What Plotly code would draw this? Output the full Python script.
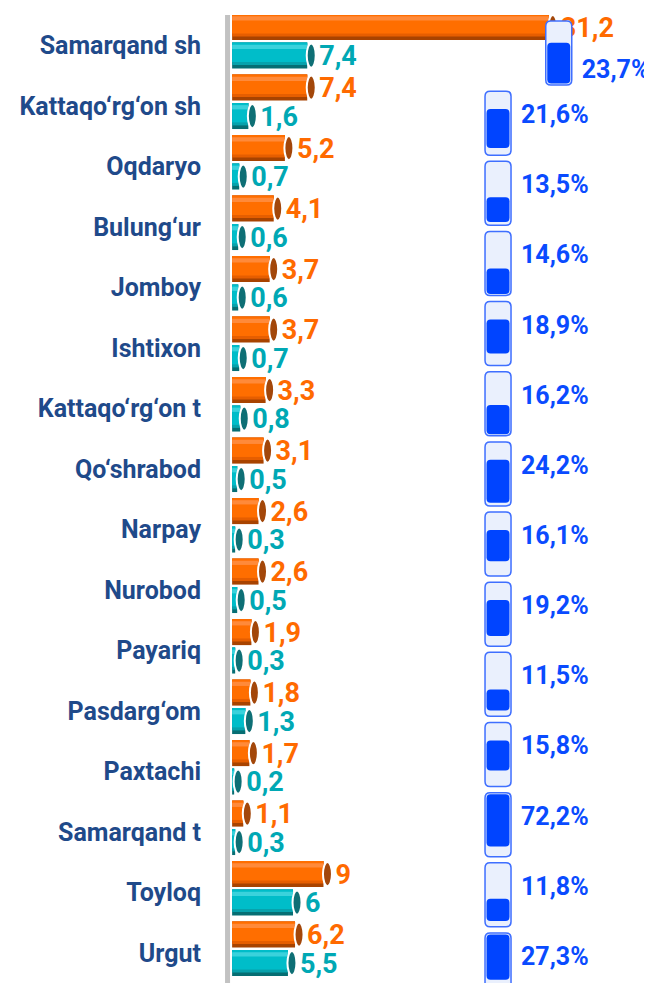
import plotly.graph_objects as go

# ---------------- data ----------------
categories = ["Samarqand sh", "Kattaqo‘rg‘on sh", "Oqdaryo", "Bulung‘ur", "Jomboy",
              "Ishtixon", "Kattaqo‘rg‘on t", "Qo‘shrabod", "Narpay", "Nurobod",
              "Payariq", "Pasdarg‘om", "Paxtachi", "Samarqand t", "Toyloq", "Urgut"]
orange_vals = [31.2, 7.4, 5.2, 4.1, 3.7, 3.7, 3.3, 3.1, 2.6, 2.6, 1.9, 1.8, 1.7, 1.1, 9, 6.2]
teal_vals = [7.4, 1.6, 0.7, 0.6, 0.6, 0.7, 0.8, 0.5, 0.3, 0.5, 0.3, 1.3, 0.2, 0.3, 6, 5.5]

pct_labels = ["23,7%", "21,6%", "13,5%", "14,6%", "18,9%", "16,2%", "24,2%",
              "16,1%", "19,2%", "11,5%", "15,8%", "72,2%", "11,8%", "27,3%"]
# battery fill levels as drawn (fraction of battery height, from bottom)
fill_low = [0.00, 0.11, 0.05, 0.02, 0.19, 0.00, 0.05, 0.23, 0.16, 0.09, 0.25, 0.16, 0.09, 0.27]
fill_high = [0.66, 0.72, 0.44, 0.42, 0.72, 0.48, 0.72, 0.72, 0.72, 0.42, 0.72, 1.00, 0.44, 1.00]

# ---------------- styling ----------------
PX = 10.15            # pixels per x unit
SLOT_PX = 70.15       # pixels per battery slot
PAGE = 8              # default page margin of the html body
FONT = "Roboto"
ORANGE_TXT = "#FF6A00"
TEAL_TXT = "#00A8B4"
BLUE_TXT = "#0A4BFF"
NAVY = "#1F4A8A"

n = len(categories)
bar_h = 0.43
off_o, off_t = -0.30, 0.17

fig = go.Figure()


def cylinder(vals, off, shades):
    centers = [i + off for i in range(n)]
    top = [c - bar_h / 2 for c in centers]
    for w, col in shades[:-1]:
        fig.add_trace(go.Bar(orientation="h", x=vals, y=[t + w / 2 for t in top],
                             width=w, base=0, marker=dict(color=col, line=dict(width=0)),
                             hoverinfo="skip"))
    hw, hcol = shades[-1]
    fig.add_trace(go.Bar(orientation="h", x=vals, y=[t + 0.035 + hw / 2 for t in top],
                         width=hw, base=0, marker=dict(color=hcol, line=dict(width=0)),
                         hoverinfo="skip"))
    return centers


c_o = cylinder(orange_vals, off_o, [(bar_h, "#A84300"), (0.37, "#E65E00"), (0.32, "#FF6E00"), (0.07, "#FF8A3A")])
c_t = cylinder(teal_vals, off_t, [(bar_h, "#066E73"), (0.37, "#07A2AC"), (0.32, "#00BDC9"), (0.07, "#3AD2DC")])

shapes = []
# grey axis line
shapes.append(dict(type="line", xref="x", yref="paper", x0=-0.45, x1=-0.45, y0=0.0, y1=1.0,
                   line=dict(color="#C2C2C2", width=5), layer="above"))

# end caps
for vals, cents, capcol in [(orange_vals, c_o, "#A3470A"), (teal_vals, c_t, "#0E6F75")]:
    for v, c in zip(vals, cents):
        cx = v + 4 / PX
        shapes.append(dict(type="circle", xref="x", yref="y",
                           x0=cx - 4.5 / PX, x1=cx + 4.5 / PX, y0=c - 0.2, y1=c + 0.2,
                           fillcolor=capcol, line=dict(color="white", width=2), layer="above"))

# value labels
fig.add_trace(go.Scatter(x=[v + 12 / PX for v in orange_vals], y=[c + 0.05 for c in c_o],
                         mode="text", text=[f"{v:g}".replace(".", ",") for v in orange_vals],
                         textposition="middle right", cliponaxis=False, hoverinfo="skip",
                         textfont=dict(family=FONT, size=27, color=ORANGE_TXT, weight=700)))
fig.add_trace(go.Scatter(x=[v + 12 / PX for v in teal_vals], y=[c + 0.05 for c in c_t],
                         mode="text", text=[f"{v:g}".replace(".", ",") for v in teal_vals],
                         textposition="middle right", cliponaxis=False, hoverinfo="skip",
                         textfont=dict(family=FONT, size=27, color=TEAL_TXT, weight=700)))


# batteries (separate column on its own slot axis)
def rr(x0, x1, y0, y1, rx, ry):
    return (f"M{x0 + rx},{y0} L{x1 - rx},{y0} Q{x1},{y0} {x1},{y0 + ry} "
            f"L{x1},{y1 - ry} Q{x1},{y1} {x1 - rx},{y1} L{x0 + rx},{y1} "
            f"Q{x0},{y1} {x0},{y1 - ry} L{x0},{y0 + ry} Q{x0},{y0} {x0 + rx},{y0} Z")


m = len(pct_labels)
col_x = (485 - 232.1) / PX
bw = 26 / PX
bh = 64 / SLOT_PX
rx, ry = 5 / PX, 5 / SLOT_PX
bat_x0 = [col_x] * m
bat_x0[0] = max(col_x, orange_vals[0] - 0.3)   # first battery sits on the long top bar
ins_x, ins_y = 1.5 / PX, 1.5 / SLOT_PX
for i in range(m):
    x0, x1 = bat_x0[i], bat_x0[i] + bw
    top, bot = i - bh / 2, i + bh / 2
    shapes.append(dict(type="path", xref="x", yref="y2", path=rr(x0, x1, top, bot, rx, ry),
                       fillcolor="#EAF0FD", line=dict(color="#3F6FFF", width=1.5), layer="above"))
    ft = bot - fill_high[i] * bh
    fb = bot - fill_low[i] * bh
    ft = max(ft, top + ins_y)
    fb = min(fb, bot - ins_y)
    shapes.append(dict(type="path", xref="x", yref="y2",
                       path=rr(x0 + ins_x, x1 - ins_x, ft, fb, rx * 0.8, ry * 0.8),
                       fillcolor="#0044FF", line=dict(width=0), layer="above"))

# percent labels: the one beside the displaced battery drops below the bar's value label
pct_y = [i - 0.09 for i in range(m)]
if bat_x0[0] > col_x:
    pct_y[0] = 0.27
fig.add_trace(go.Scatter(x=[x + bw + 10 / PX for x in bat_x0], y=pct_y,
                         yaxis="y2", mode="text", text=pct_labels, textposition="middle right",
                         cliponaxis=False, hoverinfo="skip",
                         textfont=dict(family=FONT, size=25, color=BLUE_TXT, weight=700)))

W, H = 652, 993
# target plot area on the page: x 224..652, y 15..983 (page has an 8px body margin)
L, R = 224 - PAGE, 0
T, B = 15 - PAGE, H + PAGE - 983
plot_h = H - T - B
slot_span = plot_h / SLOT_PX
slot_top = -(53 - 15) / SLOT_PX

fig.update_layout(
    width=W, height=H, margin=dict(l=L, r=R, t=T, b=B),
    paper_bgcolor="white", plot_bgcolor="white",
    barmode="overlay", showlegend=False,
    shapes=shapes,
    xaxis=dict(range=[-0.8, -0.8 + (W - L - R) / PX], visible=False, fixedrange=True),
    yaxis=dict(range=[n - 0.5, -0.5], tickmode="array", tickvals=list(range(n)),
               ticktext=categories, showgrid=False, zeroline=False, showline=False,
               ticks="", ticklabelstandoff=22, automargin=False,
               tickfont=dict(family=FONT, size=25, color=NAVY, weight=700)),
    yaxis2=dict(overlaying="y", range=[slot_top + slot_span, slot_top], visible=False),
)

fig.write_html("out.html")
